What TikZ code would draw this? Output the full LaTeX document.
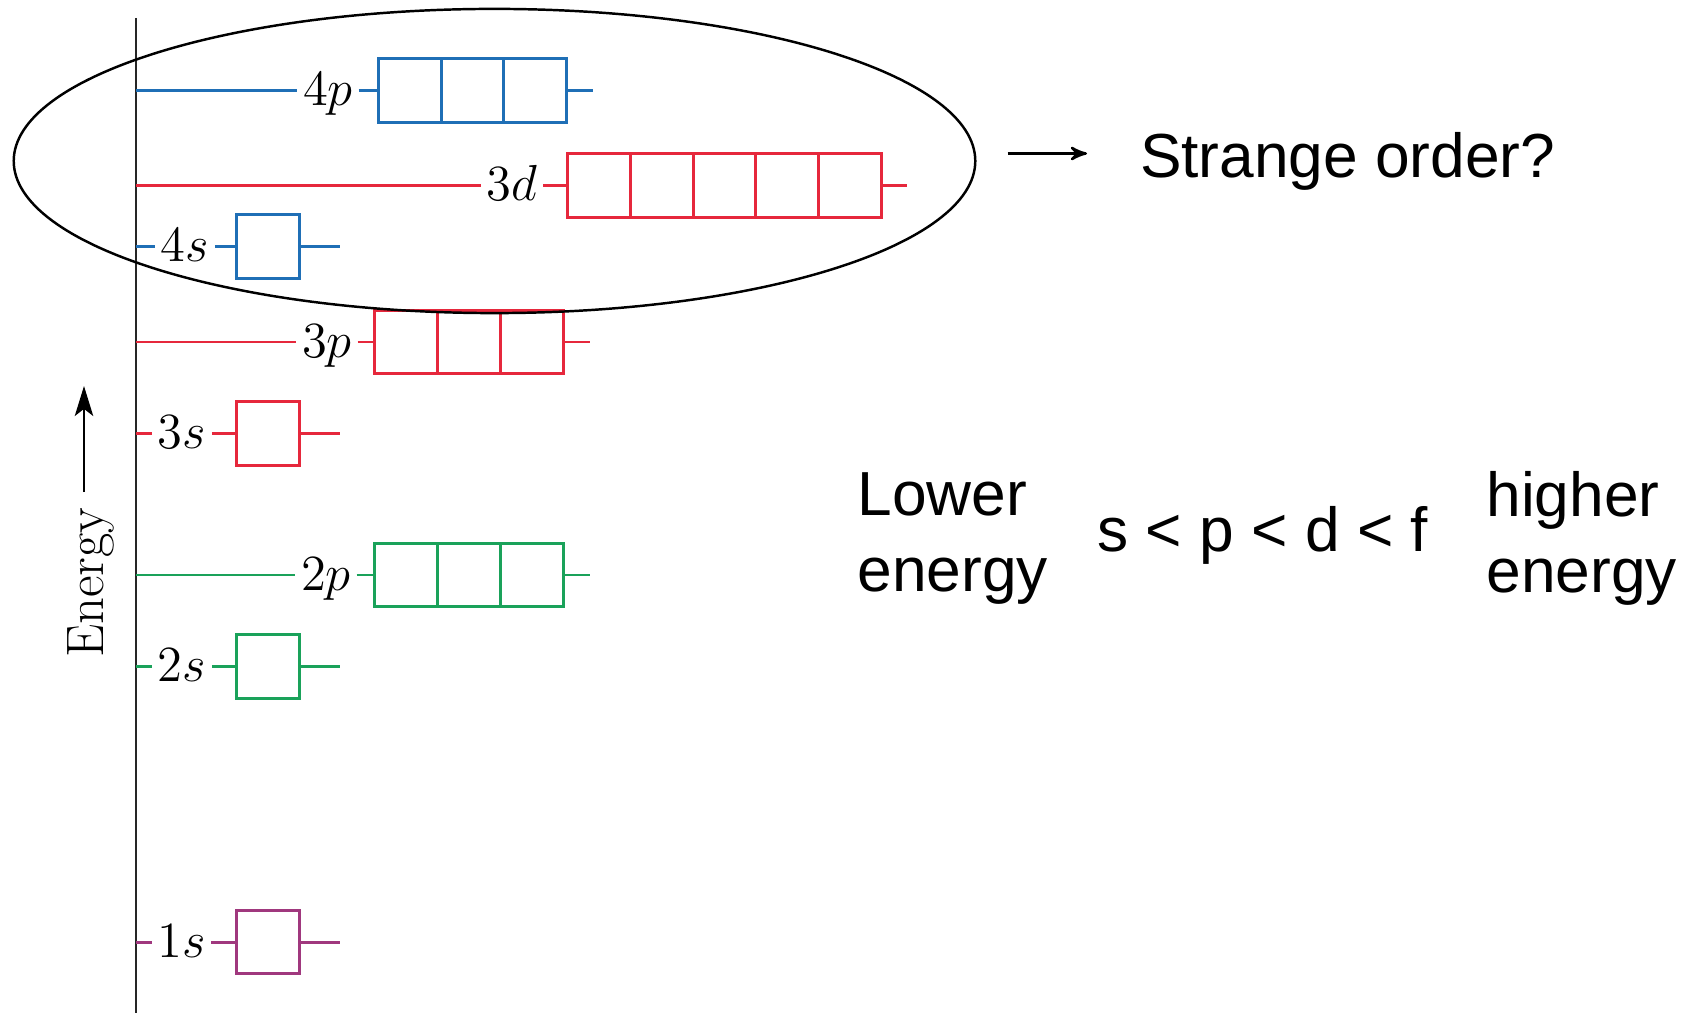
\documentclass[tikz,border=0pt]{standalone}
\usepackage{fontspec}
\newfontfamily\arialfont{Liberation Sans}
\usepackage{tikz}
\usetikzlibrary{arrows}
\usetikzlibrary{arrows.meta}
\usetikzlibrary{positioning}
\usetikzlibrary{shapes.geometric}
\definecolor{orbblue}{HTML}{1F6FB6}
\definecolor{orbred}{HTML}{E6283C}
\definecolor{orbgreen}{HTML}{1AA25A}
\definecolor{orbpurple}{HTML}{A0387E}

\begin{document}
\begin{tikzpicture}[x=0.01cm,y=-0.01cm,>=stealth',line width=0.85pt,
  orb/.style={draw,rectangle,minimum width=6.27mm,minimum height=6.3mm,inner sep=0pt,outer sep=0pt},
  lvl/.style={black,inner xsep=1.2pt,inner ysep=0pt,text height=8.7pt,text depth=0pt,
    font=\fontsize{13.5}{16}\selectfont},
  big text/.style={inner sep=0pt,font=\arialfont\fontsize{17.7}{21.5}\selectfont}]

  \useasboundingbox (0,0) rectangle (1695,1013);

  % energy axis
  \coordinate (ax) at (136,18);
  \coordinate (axend) at (136,1013);
  \draw[line width=0.8pt,black!85] (ax) -- (axend);
  \node[rotate=90,anchor=base,font=\fontsize{15}{18}\selectfont] (energy) at (103,583) {Energy};
  \coordinate (up0) at (84,492);
  \coordinate (up1) at (84,386);
  \draw[-{Stealth[length=8.5pt,width=5.2pt,inset=2pt]},line width=0.85pt] (up0) -- (up1);

  % 4p
  \node[lvl] (l4p) at (328,90.5) {$4p$};
  \node[orb,orbblue,anchor=west] (b4p1) at (378.4,90.5) {};
  \node[orb,orbblue,right=0pt of b4p1] (b4p2) {};
  \node[orb,orbblue,right=0pt of b4p2] (b4p3) {};
  \coordinate[right=2.6mm of b4p3] (t4p);
  \path[orbblue] (ax |- l4p) edge (l4p) (l4p) edge (b4p1) (b4p3) edge (t4p);

  % 3d
  \node[lvl] (l3d) at (512,185.5) {$3d$};
  \node[orb,orbred,anchor=west] (b3d1) at (567.7,185.5) {};
  \node[orb,orbred,right=0pt of b3d1] (b3d2) {};
  \node[orb,orbred,right=0pt of b3d2] (b3d3) {};
  \node[orb,orbred,right=0pt of b3d3] (b3d4) {};
  \node[orb,orbred,right=0pt of b3d4] (b3d5) {};
  \coordinate[right=2.6mm of b3d5] (t3d);
  \path[orbred] (ax |- l3d) edge (l3d) (l3d) edge (b3d1) (b3d5) edge (t3d);

  % 4s
  \node[lvl] (l4s) at (185,246.5) {$4s$};
  \node[orb,orbblue,anchor=west] (b4s) at (236.5,246.5) {};
  \coordinate[right=4.1mm of b4s] (t4s);
  \path[orbblue] (ax |- l4s) edge (l4s) (l4s) edge (b4s) (b4s) edge (t4s);

  % 3p
  \node[lvl] (l3p) at (327,342) {$3p$};
  \node[orb,orbred,anchor=west] (b3p1) at (374.8,342) {};
  \node[orb,orbred,right=0pt of b3p1] (b3p2) {};
  \node[orb,orbred,right=0pt of b3p2] (b3p3) {};
  \coordinate[right=2.65mm of b3p3] (t3p);
  \path[orbred] (ax |- l3p) edge (l3p) (l3p) edge (b3p1) (b3p3) edge (t3p);

  % 3s
  \node[lvl] (l3s) at (182,433.5) {$3s$};
  \node[orb,orbred,anchor=west] (b3s) at (236.5,433.5) {};
  \coordinate[right=4.1mm of b3s] (t3s);
  \path[orbred] (ax |- l3s) edge (l3s) (l3s) edge (b3s) (b3s) edge (t3s);

  % 2p
  \node[lvl] (l2p) at (326,575) {$2p$};
  \node[orb,orbgreen,anchor=west] (b2p1) at (374.8,575) {};
  \node[orb,orbgreen,right=0pt of b2p1] (b2p2) {};
  \node[orb,orbgreen,right=0pt of b2p2] (b2p3) {};
  \coordinate[right=2.65mm of b2p3] (t2p);
  \path[orbgreen] (ax |- l2p) edge (l2p) (l2p) edge (b2p1) (b2p3) edge (t2p);

  % 2s
  \node[lvl] (l2s) at (182,666.5) {$2s$};
  \node[orb,orbgreen,anchor=west] (b2s) at (236.5,666.5) {};
  \coordinate[right=4.1mm of b2s] (t2s);
  \path[orbgreen] (ax |- l2s) edge (l2s) (l2s) edge (b2s) (b2s) edge (t2s);

  % 1s
  \node[lvl] (l1s) at (181.5,942) {$1s$};
  \node[orb,orbpurple,anchor=west] (b1s) at (236.7,942) {};
  \coordinate[right=4.1mm of b1s] (t1s);
  \path[orbpurple] (ax |- l1s) edge (l1s) (l1s) edge (b1s) (b1s) edge (t1s);

  % the odd ones
  \node[draw,ellipse,line width=0.7pt,minimum width=9.61cm,minimum height=3.04cm,inner sep=0pt] (oval) at (494.5,161) {};
  \node[big text,anchor=base west] (strange) at (1138.5,177.3) {Strange order?};
  \coordinate (q1) at (1087,153.5);
  \draw[->,line width=0.7pt,shorten <=3.1mm] (oval.east |- q1) -- (q1);

  % right hand text
  \node[big text,align=left,anchor=west] (lower) at (856,538.5) {Lower\\energy};
  \node[big text,anchor=base west] (order) at (1096,551.7) {s < p < d < f};
  \node[big text,align=left,anchor=west] (higher) at (1485,538.5) {higher\\energy};
\end{tikzpicture}
\end{document}
